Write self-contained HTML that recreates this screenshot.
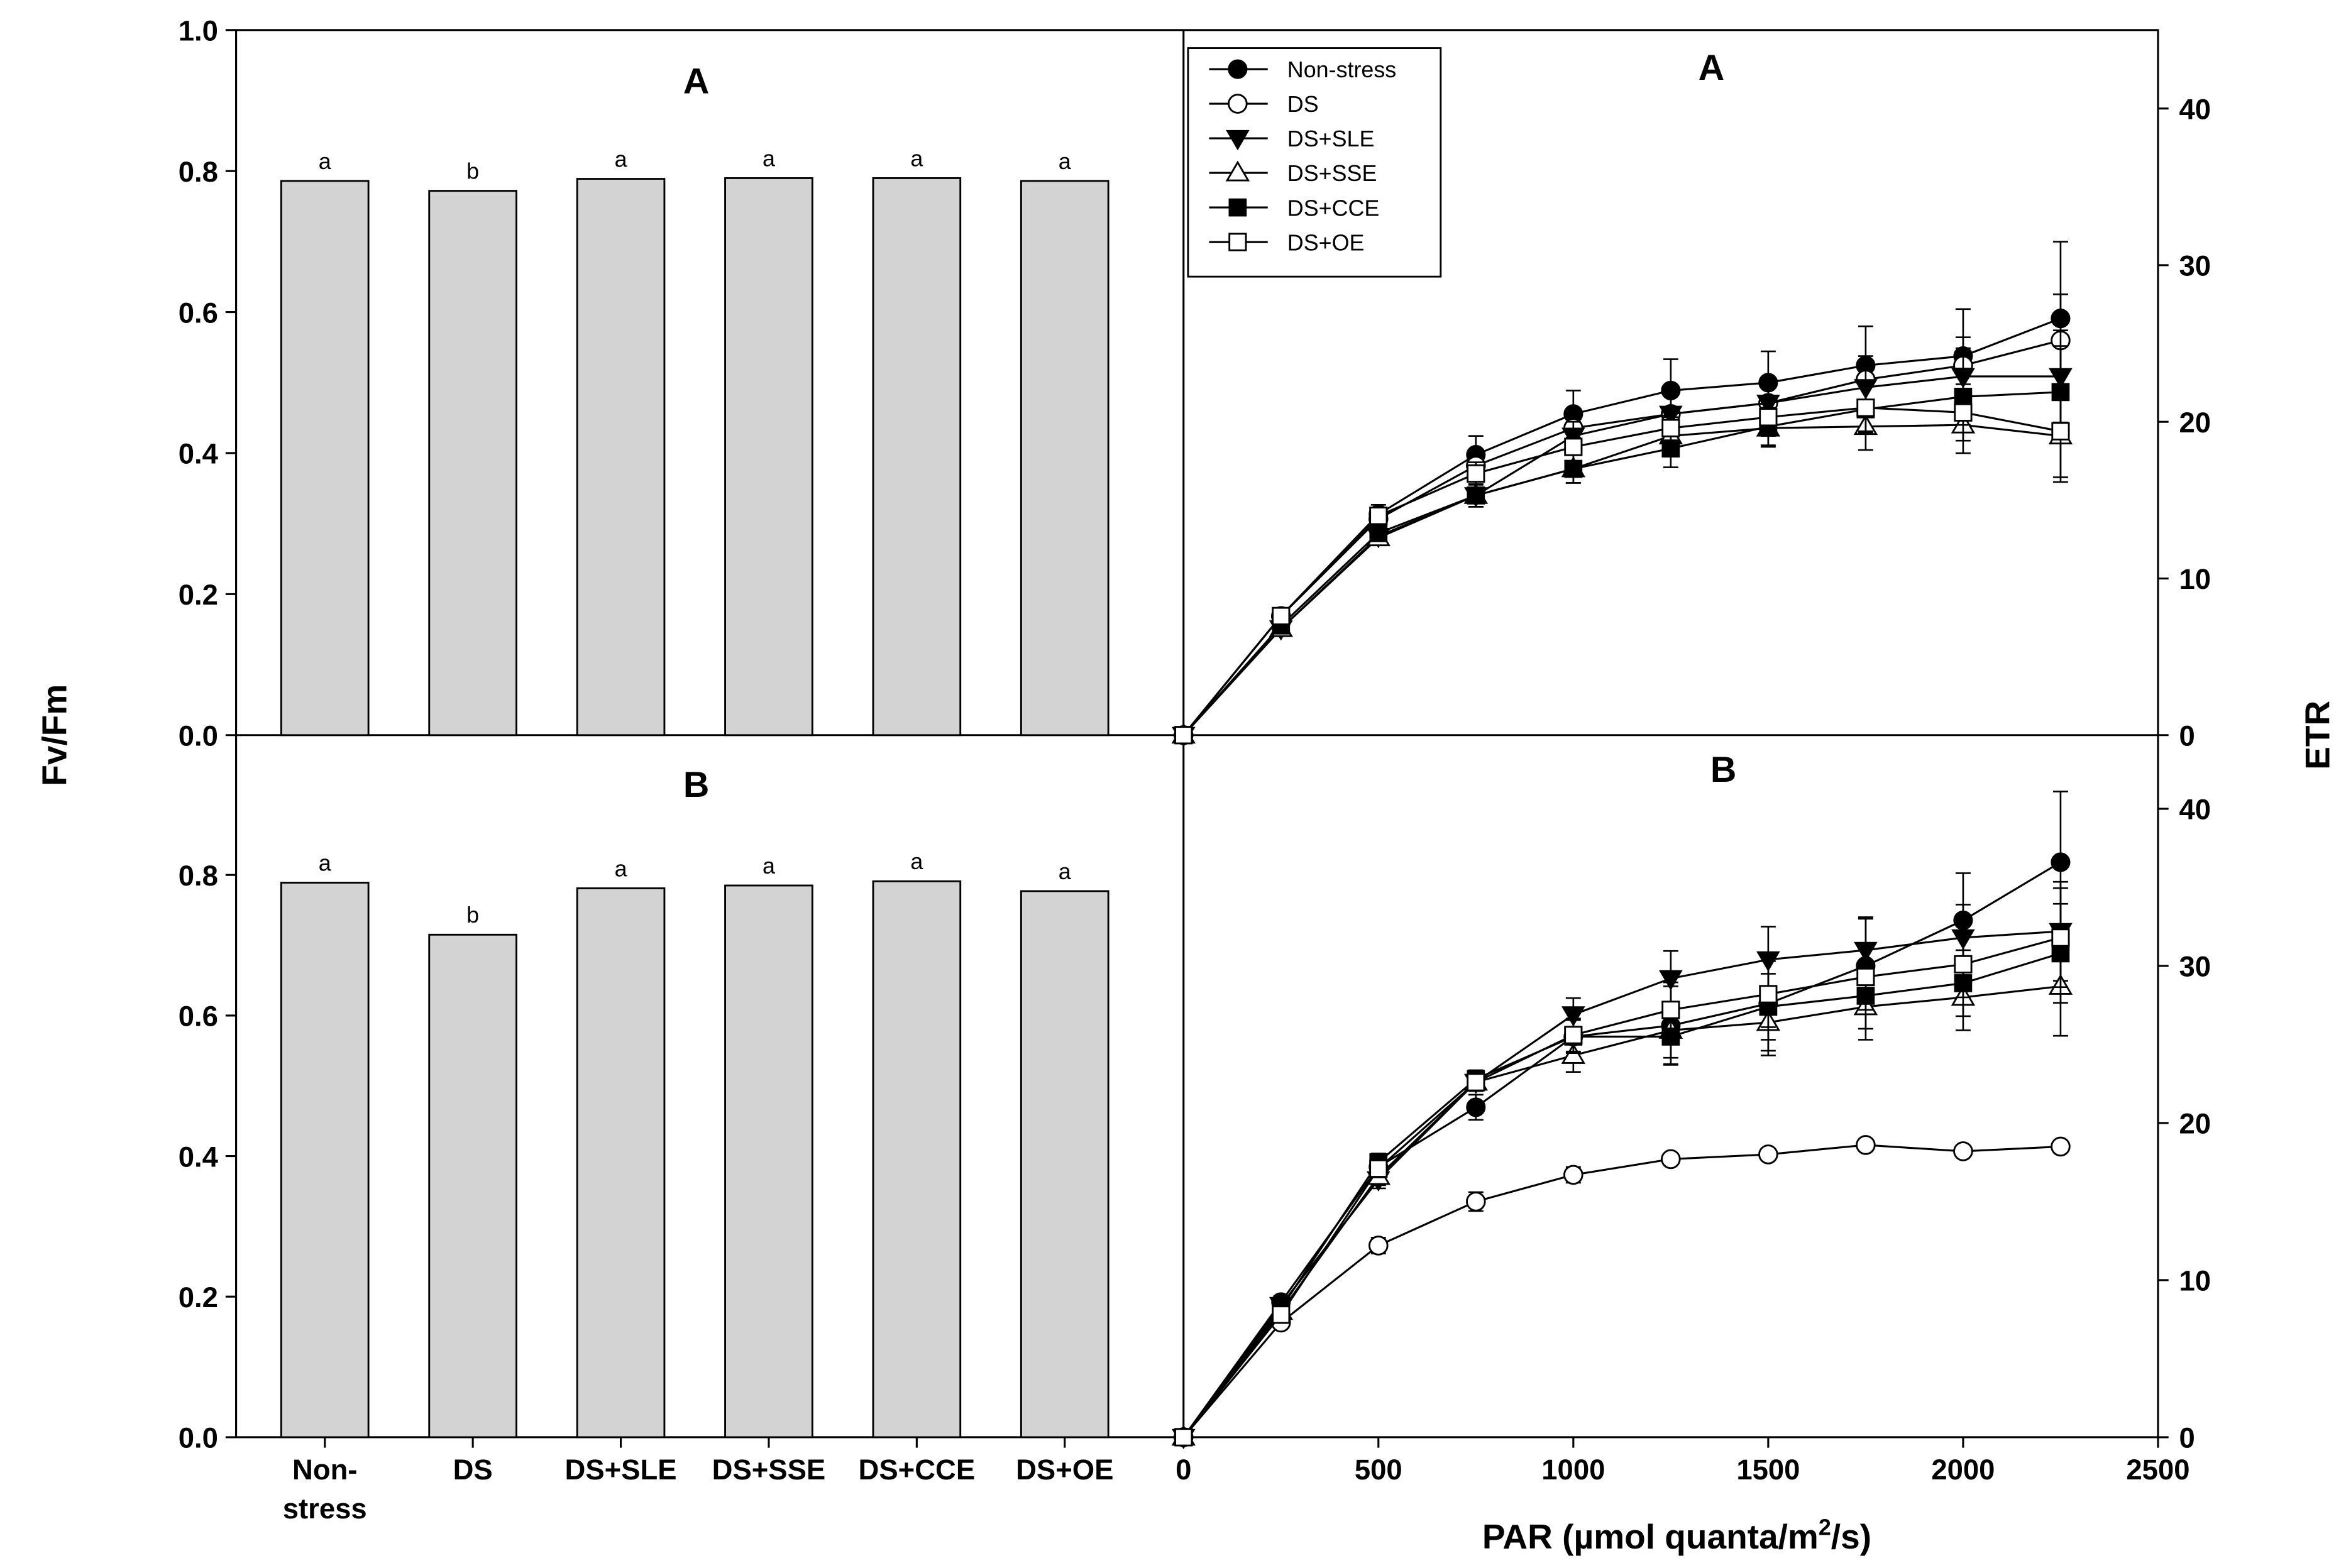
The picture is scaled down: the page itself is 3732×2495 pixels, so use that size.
<!DOCTYPE html>
<html><head><meta charset="utf-8"><style>
html,body{margin:0;padding:0;background:#fff}
svg{display:block}
text{font-family:"Liberation Sans",Arial,sans-serif;font-weight:bold;fill:#000}
</style></head><body>
<svg id="chart" width="3732" height="2495" viewBox="0 0 1560 1043" preserveAspectRatio="none" xmlns="http://www.w3.org/2000/svg">
<g id="root"></g>
</svg>
<script>
const categories=["Non-stress","DS","DS+SLE","DS+SSE","DS+CCE","DS+OE"];
const barTop=[0.786,0.772,0.789,0.790,0.790,0.786];
const barBottom=[0.789,0.715,0.781,0.785,0.791,0.777];
const letterTop=["a","b","a","a","a","a"];
const letterBottom=["a","b","a","a","a","a"];
const par=[0,250,500,750,1000,1250,1500,1750,2000,2250];
const seriesNames=["Non-stress","DS","DS+SLE","DS+SSE","DS+CCE","DS+OE"];
const topNS=[0,7.6,14.1,17.9,20.5,22.0,22.5,23.6,24.2,26.6];
const topDS=[0,7.6,13.8,17.2,19.6,20.5,21.2,22.7,23.6,25.2];
const topSLE=[0,6.8,12.7,15.3,19.1,20.5,21.2,22.2,22.9,22.9];
const topSSE=[0,6.8,12.6,15.3,17.0,19.1,19.6,19.7,19.8,19.1];
const topCCE=[0,7.0,12.9,15.3,17.0,18.3,19.7,20.8,21.6,21.9];
const topOE=[0,7.6,14.0,16.7,18.4,19.6,20.3,20.9,20.6,19.4];
const topErr=[0,0.4,0.6,1.2,1.5,2.0,2.0,2.5,3.0,4.9];
const botNS=[0,8.6,17.2,21.0,25.5,26.2,27.6,30.0,32.9,36.6];
const botDS=[0,7.3,12.2,15.0,16.7,17.7,18.0,18.6,18.2,18.5];
const botSLE=[0,8.4,16.4,22.6,26.9,29.2,30.4,31.0,31.8,32.2];
const botSSE=[0,8.0,16.6,22.6,24.3,25.9,26.4,27.4,28.0,28.7];
const botCCE=[0,8.2,17.5,22.8,25.5,25.5,27.4,28.1,28.9,30.8];
const botOE=[0,7.8,17.1,22.6,25.6,27.2,28.2,29.3,30.1,31.8];
const botErr=[0,0.4,0.8,0.8,1.5,2.5,3.0,3.0,3.0,4.5];
const dsErr=[0,0.3,0.5,0.6,0.5,0.3,0.3,0.3,0.3,0.3];
const yTicksBar=[0,0.2,0.4,0.6,0.8,1.0];
const xTicksPar=[0,500,1000,1500,2000,2500];
const yTicksEtr=[0,10,20,30,40];

const NS="http://www.w3.org/2000/svg";
const root=document.getElementById('root');
function el(tag,attrs,parent,txt){const e=document.createElementNS(NS,tag);for(const k in attrs)e.setAttribute(k,attrs[k]);if(txt!==undefined)e.textContent=txt;(parent||root).appendChild(e);return e;}

const L0=157,L1=787,R1=1435;
const xPar=v=>787+v*(648/2500);
const barY=[v=>489-v*469,v=>956-v*467.5];
const etrY=[v=>489-v*10.42,v=>956-v*10.45];
const barX=i=>216+i*98.4;

const fr=el('rect',{x:L0,y:20,width:R1-L0,height:936,fill:'none',stroke:'#000','stroke-width':1.3});

el('line',{x1:L0,y1:489,x2:R1,y2:489,stroke:'#000','stroke-width':1.3});
el('line',{x1:L1,y1:20,x2:L1,y2:956,stroke:'#000','stroke-width':1.3});

[0,1].forEach(p=>{
  const g=el('g',{});
  
  
  yTicksBar.forEach(t=>{
    if(p===1&&t===1.0)return;
    const y=barY[p](t);
    el('line',{x1:L0-7,y1:y,x2:L0,y2:y,stroke:'#000','stroke-width':1.3},g);
    el('text',{x:L0-12,y:y+7,'text-anchor':'end','font-size':19},g,t.toFixed(1));
  });
});
[[barTop,letterTop],[barBottom,letterBottom]].forEach((d,p)=>{
  d[0].forEach((v,i)=>{
    const y=barY[p](v),y0=barY[p](0);
    const r=el('rect',{x:barX(i)-29,y:y,width:58,height:y0-y,fill:'#d3d3d3',stroke:'#000','stroke-width':1.2});
    
    
    el('text',{x:barX(i),y:y-8,'text-anchor':'middle','font-size':15,style:'font-weight:normal'},null,d[1][i]);
  });
});
categories.forEach((c,i)=>{
  const g=el('g',{});
  
  
  el('line',{x1:barX(i),y1:956,x2:barX(i),y2:963,stroke:'#000','stroke-width':1.3},g);
  if(c==="Non-stress"){el('text',{x:barX(i),y:984,'text-anchor':'middle','font-size':19},g,'Non-');el('text',{x:barX(i),y:1010,'text-anchor':'middle','font-size':19},g,'stress');}
  else el('text',{x:barX(i),y:984,'text-anchor':'middle','font-size':19},g,c);
});
xTicksPar.forEach(t=>{
  const x=xPar(t);
  el('line',{x1:x,y1:956,x2:x,y2:963,stroke:'#000','stroke-width':1.3});
  el('text',{x:x,y:984,'text-anchor':'middle','font-size':19},null,t);
});
[0,1].forEach(p=>{
  const g=el('g',{});
  
  
  yTicksEtr.forEach(t=>{
    const y=etrY[p](t);
    el('line',{x1:R1,y1:y,x2:R1+7,y2:y,stroke:'#000','stroke-width':1.3},g);
    el('text',{x:R1+14,y:y+7,'text-anchor':'start','font-size':19},g,t);
  });
});
let t;
t=el('text',{x:0,y:0,transform:'translate(44,489) rotate(-90)','text-anchor':'middle','font-size':23},null,'Fv/Fm');

t=el('text',{x:0,y:0,transform:'translate(1549,489) rotate(-90)','text-anchor':'middle','font-size':23},null,'ETR');

t=el('text',{x:1115,y:1030,'text-anchor':'middle','font-size':23},null,'');

t.innerHTML='PAR (µmol quanta/m<tspan dy="-9" font-size="15">2</tspan><tspan dy="9">/s)</tspan>';
[[463,62,'A'],[463,530,'B'],[1138,53,'A'],[1146,520,'B']].forEach(a=>{
  const e=el('text',{x:a[0],y:a[1],'text-anchor':'middle','font-size':24},null,a[2]);
  
});

function marker(type,x,y,g){
  const s=6;
  if(type===0)return el('circle',{cx:x,cy:y,r:s,fill:'#000',stroke:'#000'},g);
  if(type===1)return el('circle',{cx:x,cy:y,r:s,fill:'#fff',stroke:'#000','stroke-width':1.2},g);
  if(type===2)return el('polygon',{points:`${x-7},${y-5} ${x+7},${y-5} ${x},${y+7}`,fill:'#000',stroke:'#000'},g);
  if(type===3)return el('polygon',{points:`${x-7},${y+5} ${x+7},${y+5} ${x},${y-7}`,fill:'#fff',stroke:'#000','stroke-width':1.2},g);
  if(type===4)return el('rect',{x:x-5.5,y:y-5.5,width:11,height:11,fill:'#000',stroke:'#000'},g);
  return el('rect',{x:x-5.5,y:y-5.5,width:11,height:11,fill:'#fff',stroke:'#000','stroke-width':1.2},g);
}
const topSeries=[topNS,topDS,topSLE,topSSE,topCCE,topOE];
const botSeries=[botNS,botDS,botSLE,botSSE,botCCE,botOE];
[topSeries,botSeries].forEach((ser,p)=>{
  ser.forEach((vals,si)=>{
    const g=el('g',{});
    
    
    const err=p===0?topErr.map(e=>e*(si===0?1:0.6)):(si===1?dsErr:botErr.map(e=>e*(si===0?1:0.7)));
    vals.forEach((v,i)=>{
      if(err[i]>0){
        const x=xPar(par[i]),y1=etrY[p](v+err[i]),y2=etrY[p](v-err[i]);
        el('line',{x1:x,y1:y1,x2:x,y2:y2,stroke:'#000','stroke-width':1.1},g);
        el('line',{x1:x-5,y1:y1,x2:x+5,y2:y1,stroke:'#000','stroke-width':1.1},g);
        el('line',{x1:x-5,y1:y2,x2:x+5,y2:y2,stroke:'#000','stroke-width':1.1},g);
      }
    });
    el('polyline',{points:vals.map((v,i)=>xPar(par[i])+','+etrY[p](v)).join(' '),fill:'none',stroke:'#000','stroke-width':1.3},g);
    vals.forEach((v,i)=>marker(si,xPar(par[i]),etrY[p](v),g));
  });
});
const lg=el('g',{});


el('rect',{x:790,y:32,width:168,height:152,fill:'#fff',stroke:'#000','stroke-width':1.2},lg);
seriesNames.forEach((n,i)=>{
  const y=46+i*23;
  const e=el('g',{},lg);
  
  
  el('line',{x1:804,y1:y,x2:843,y2:y,stroke:'#000','stroke-width':1.3},e);
  marker(i,823,y,e);
  el('text',{x:856,y:y+5.5,'font-size':15,style:'font-weight:normal'},e,n);
});
</script>
</body></html>
